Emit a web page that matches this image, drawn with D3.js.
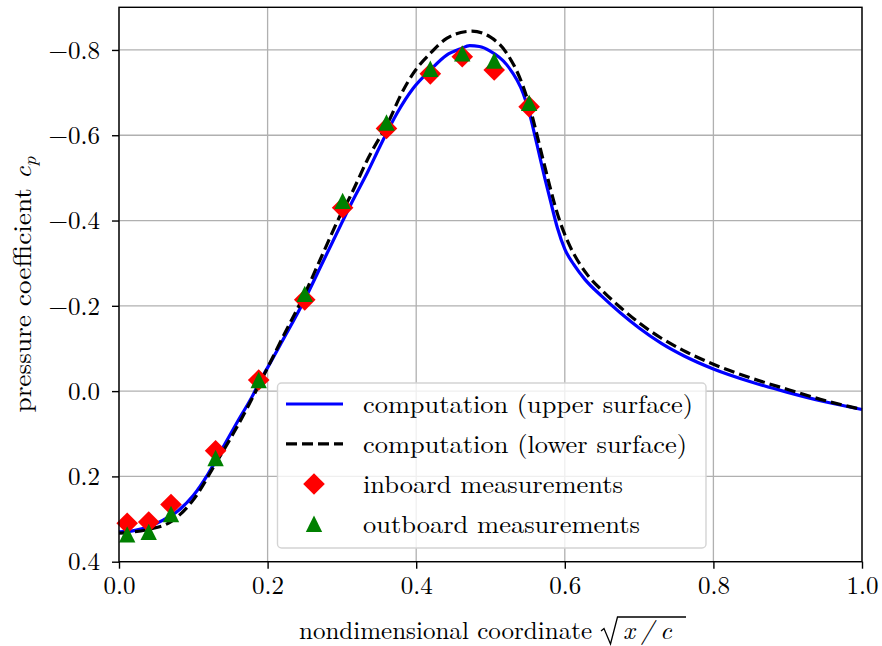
<!DOCTYPE html>
<html>
<head>
<meta charset="utf-8">
<script src="https://cdn.jsdelivr.net/npm/d3@7"></script>
<style>
  body { margin: 0; background: #fff; }
  svg { display: block; }
</style>
</head>
<body>
<svg id="chart" width="882" height="646"></svg>
<script>
// Computed pressure distribution, upper surface (abscissa is sqrt(x/c))
const xUpper = [0, 0.02, 0.04, 0.06, 0.08, 0.10, 0.12, 0.14, 0.16, 0.18, 0.19, 0.20, 0.22, 0.25, 0.275, 0.30,
  0.315, 0.335, 0.351, 0.374, 0.396, 0.419, 0.441, 0.46, 0.472, 0.485, 0.499, 0.522, 0.544, 0.552, 0.558,
  0.565, 0.573, 0.582, 0.590, 0.600, 0.612, 0.627, 0.65, 0.675, 0.70, 0.73, 0.76, 0.80, 0.85, 0.90, 0.95, 1.0];
const cpUpper = [0.330, 0.327, 0.318, 0.302, 0.280, 0.245, 0.194, 0.132, 0.070, 0.010, -0.025, -0.055, -0.118,
  -0.215, -0.305, -0.395, -0.448, -0.515, -0.573, -0.651, -0.710, -0.753, -0.788, -0.803, -0.810, -0.808,
  -0.798, -0.765, -0.698, -0.655, -0.612, -0.560, -0.500, -0.437, -0.383, -0.333, -0.297, -0.262, -0.222,
  -0.183, -0.148, -0.112, -0.083, -0.052, -0.022, 0.003, 0.025, 0.043];

// Computed pressure distribution, lower surface
const xLower = [0, 0.02, 0.04, 0.07, 0.10, 0.13, 0.154, 0.176, 0.19, 0.20, 0.22, 0.25, 0.275, 0.30, 0.311,
  0.335, 0.365, 0.378, 0.396, 0.419, 0.441, 0.46, 0.475, 0.499, 0.522, 0.544, 0.553, 0.562, 0.570, 0.578,
  0.586, 0.594, 0.605, 0.629, 0.652, 0.675, 0.70, 0.73, 0.76, 0.80, 0.85, 0.90, 0.95, 1.0];
const cpLower = [0.333, 0.330, 0.324, 0.306, 0.255, 0.170, 0.099, 0.028, -0.020, -0.055, -0.125, -0.228,
  -0.325, -0.420, -0.456, -0.545, -0.640, -0.690, -0.745, -0.792, -0.827, -0.841, -0.844, -0.831, -0.792,
  -0.714, -0.665, -0.605, -0.548, -0.493, -0.440, -0.395, -0.347, -0.276, -0.233, -0.196, -0.160, -0.124,
  -0.095, -0.063, -0.031, -0.004, 0.022, 0.043];

// Pressure-tap measurements
const xInboard = [0.011, 0.040, 0.070, 0.130, 0.188, 0.250, 0.301, 0.360, 0.419, 0.462, 0.505, 0.552];
const cpInboard = [0.310, 0.307, 0.266, 0.140, -0.026, -0.214, -0.430, -0.616, -0.744, -0.784, -0.753, -0.667];
const xOutboard = [0.011, 0.040, 0.070, 0.130, 0.188, 0.250, 0.301, 0.360, 0.419, 0.462, 0.505, 0.552];
const cpOutboard = [0.336, 0.330, 0.288, 0.157, -0.026, -0.228, -0.446, -0.630, -0.756, -0.792, -0.775, -0.676];

// Axis ticks
const xTicks = [0.0, 0.2, 0.4, 0.6, 0.8, 1.0];
const yTicks = [-0.8, -0.6, -0.4, -0.2, 0.0, 0.2, 0.4];

const legendLabels = [
  "computation (upper surface)",
  "computation (lower surface)",
  "inboard measurements",
  "outboard measurements"
];

const FONT = "'Latin Modern Roman'";
const plot = { left: 119, right: 862, top: 7.3, bottom: 561.7 };

const svg = d3.select("#chart");
const x = d3.scaleLinear().domain([0, 1]).range([plot.left, plot.right]);
// cp axis is inverted: suction (negative cp) upward
const y = d3.scaleLinear().domain([-0.9, 0.4]).range([plot.top, plot.bottom]);

// Font size that makes a sample string a given width
function fitSize(sample, width, base) {
  const t = svg.append("text").style("font-family", FONT).style("font-size", base + "px").text(sample);
  const w = t.node().getComputedTextLength();
  t.remove();
  return w > 0 ? base * width / w : base;
}
const fs = Math.max(22, Math.min(27, fitSize("0.0", 32, 25)));

svg.append("rect").attr("width", 882).attr("height", 646).attr("fill", "#fff");

// Grid
const grid = svg.append("g").attr("stroke", "#b0b0b0").attr("stroke-width", 1.3);
grid.selectAll("line.gx").data(xTicks).join("line")
  .attr("x1", d => x(d)).attr("x2", d => x(d))
  .attr("y1", plot.top).attr("y2", plot.bottom);
grid.selectAll("line.gy").data(yTicks).join("line")
  .attr("y1", d => y(d)).attr("y2", d => y(d))
  .attr("x1", plot.left).attr("x2", plot.right);

// Curves
const line = d3.line().curve(d3.curveMonotoneX).x(d => x(d[0])).y(d => y(d[1]));
const upper = xUpper.map((v, i) => [v, cpUpper[i]]);
const lower = xLower.map((v, i) => [v, cpLower[i]]);

svg.append("path").datum(upper).attr("d", line)
  .attr("fill", "none").attr("stroke", "#0000ff").attr("stroke-width", 3.2);
svg.append("path").datum(lower).attr("d", line)
  .attr("fill", "none").attr("stroke", "#000").attr("stroke-width", 3.2)
  .attr("stroke-dasharray", "11,5");

// Marker shapes: square rotated 45 degrees, and an isosceles triangle centred on its box
const diamondType = {
  draw(ctx, size) {
    const r = Math.sqrt(size) / 2;
    ctx.moveTo(0, -r); ctx.lineTo(r, 0); ctx.lineTo(0, r); ctx.lineTo(-r, 0); ctx.closePath();
  }
};
const triangleType = {
  draw(ctx, size) {
    const r = Math.sqrt(size) / 2;
    ctx.moveTo(0, -r); ctx.lineTo(r, r); ctx.lineTo(-r, r); ctx.closePath();
  }
};
const diamond = d3.symbol().type(diamondType).size(21.6 * 21.6);
const triangle = d3.symbol().type(triangleType).size(16.4 * 16.4);

svg.append("g").selectAll("path").data(xInboard.map((v, i) => [v, cpInboard[i]])).join("path")
  .attr("d", diamond)
  .attr("transform", d => `translate(${x(d[0])},${y(d[1])})`)
  .attr("fill", "#ff0000");
svg.append("g").selectAll("path").data(xOutboard.map((v, i) => [v, cpOutboard[i]])).join("path")
  .attr("d", triangle)
  .attr("transform", d => `translate(${x(d[0])},${y(d[1])})`)
  .attr("fill", "#008000");

// Frame
svg.append("rect")
  .attr("x", plot.left).attr("y", plot.top)
  .attr("width", plot.right - plot.left).attr("height", plot.bottom - plot.top)
  .attr("fill", "none").attr("stroke", "#000").attr("stroke-width", 1.4);

// Axes
const fmt = d => (d < 0 ? "\u2212" : "") + Math.abs(d).toFixed(1);
const xAxis = svg.append("g").attr("transform", `translate(0,${plot.bottom})`)
  .call(d3.axisBottom(x).tickValues(xTicks).tickFormat(fmt).tickSize(7).tickPadding(7).tickSizeOuter(0));
const yAxis = svg.append("g").attr("transform", `translate(${plot.left},0)`)
  .call(d3.axisLeft(y).tickValues(yTicks).tickFormat(fmt).tickSize(7).tickPadding(12).tickSizeOuter(0));
[xAxis, yAxis].forEach(g => {
  g.attr("font-family", null).attr("font-size", null);
  g.select(".domain").remove();
  g.selectAll(".tick line").attr("stroke", "#000").attr("stroke-width", 1.4);
  g.selectAll(".tick text").attr("fill", "#000")
    .style("font-family", FONT).style("font-size", fs + "px");
});
xAxis.selectAll(".tick text").attr("dy", "0.72em");
yAxis.selectAll(".tick text").attr("dy", "0.33em");

// Axis titles
svg.append("text")
  .attr("x", 299).attr("y", 639)
  .attr("textLength", 293).attr("lengthAdjust", "spacingAndGlyphs")
  .style("font-family", FONT).style("font-size", fs + "px")
  .text("nondimensional coordinate");
// radical sign over x/c
svg.append("path")
  .attr("d", "M601,631 L604,628.5 L610.5,644 L617.5,617 L686,617")
  .attr("fill", "none").attr("stroke", "#000").attr("stroke-width", 1.3)
  .attr("stroke-linejoin", "miter");
svg.append("text")
  .attr("x", 623).attr("y", 639)
  .style("font-family", FONT).style("font-size", (fs * 1.02) + "px").style("font-style", "italic")
  .style("letter-spacing", "6px")
  .text("x/c");

const yTitle = svg.append("text")
  .attr("transform", `translate(31,${(plot.top + plot.bottom) / 2}) rotate(-90)`)
  .attr("text-anchor", "middle")
  .attr("textLength", 256).attr("lengthAdjust", "spacingAndGlyphs")
  .style("font-family", FONT).style("font-size", (fs * 1.03) + "px");
yTitle.append("tspan").text("pressure coefficient ");
yTitle.append("tspan").style("font-style", "italic").text("c");
yTitle.append("tspan").style("font-style", "italic").style("font-size", (fs * 0.74) + "px")
  .attr("dy", 5).text("p");

// Legend
const lg = svg.append("g");
lg.append("rect")
  .attr("x", 277.5).attr("y", 383).attr("width", 428.5).attr("height", 165)
  .attr("rx", 4).attr("ry", 4)
  .attr("fill", "#fff").attr("fill-opacity", 0.8)
  .attr("stroke", "#d4d4d4").attr("stroke-width", 1.4);
const rows = [404, 443.8, 484, 523.7];
const textWidths = [330, 324, 260, 277];
lg.append("line").attr("x1", 286).attr("x2", 343).attr("y1", rows[0]).attr("y2", rows[0])
  .attr("stroke", "#0000ff").attr("stroke-width", 3.2);
lg.append("line").attr("x1", 286).attr("x2", 343).attr("y1", rows[1]).attr("y2", rows[1])
  .attr("stroke", "#000").attr("stroke-width", 3.2).attr("stroke-dasharray", "11,5");
lg.append("path").attr("d", diamond).attr("transform", `translate(314,${rows[2]})`).attr("fill", "#ff0000");
lg.append("path").attr("d", triangle).attr("transform", `translate(314,${rows[3]})`).attr("fill", "#008000");
lg.selectAll("text").data(legendLabels).join("text")
  .attr("x", 363).attr("y", (d, i) => rows[i] + 9)
  .attr("textLength", (d, i) => textWidths[i]).attr("lengthAdjust", "spacingAndGlyphs")
  .style("font-family", FONT).style("font-size", fs + "px")
  .text(d => d);
</script>
</body>
</html>
